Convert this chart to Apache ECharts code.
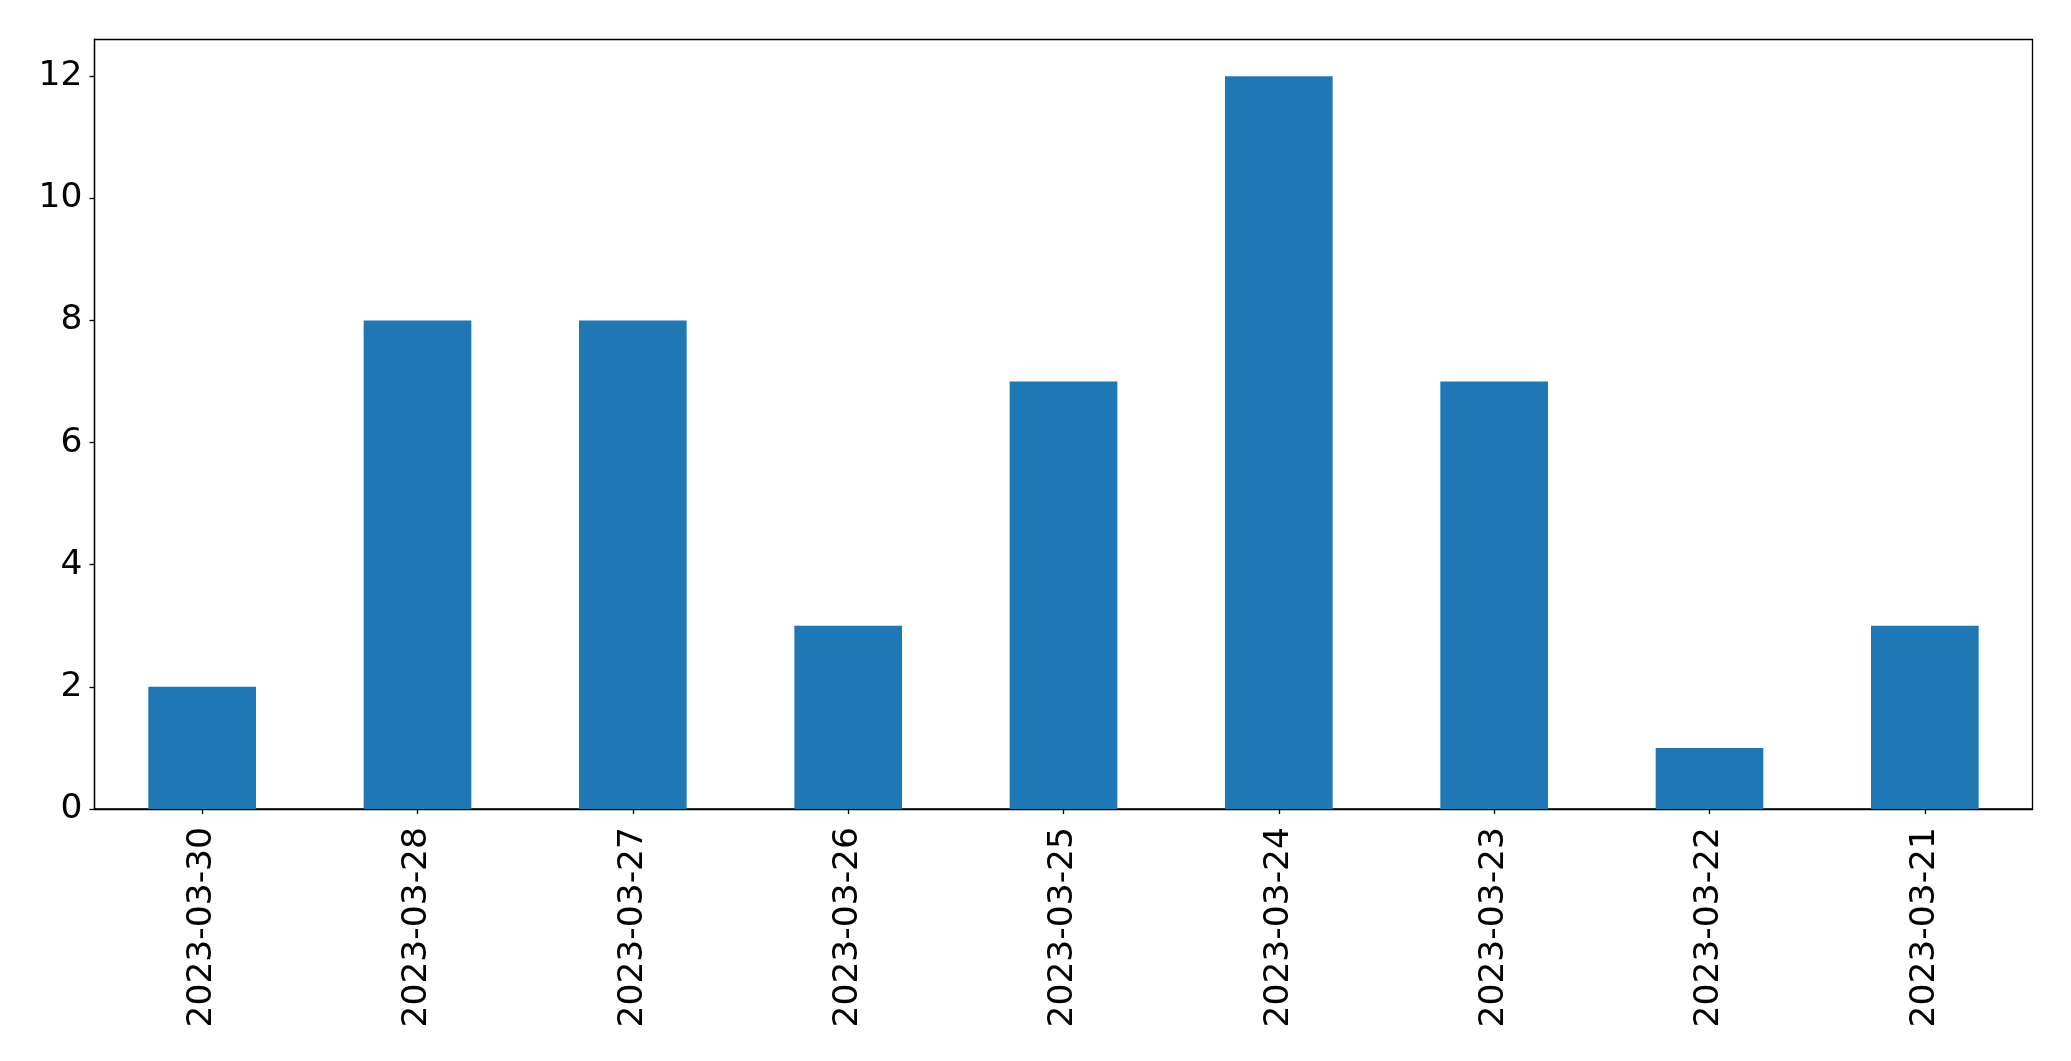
<!DOCTYPE html>
<html>
<head>
<meta charset="utf-8">
<script src="https://cdn.jsdelivr.net/npm/echarts@6/dist/echarts.min.js"></script>
<style>
html,body{margin:0;padding:0;background:#fff;}
#chart{width:2071px;height:1061px;}
</style>
</head>
<body>
<div id="chart"></div>
<script>
const categories = ['2023-03-30','2023-03-28','2023-03-27','2023-03-26','2023-03-25','2023-03-24','2023-03-23','2023-03-22','2023-03-21'];
const counts = [2, 8, 8, 3, 7, 12, 7, 1, 3];
const yTicks = [0, 2, 4, 6, 8, 10, 12];

const chart = echarts.init(document.getElementById('chart'), null, {renderer: 'canvas'});
const font = 'DejaVu Sans';
chart.setOption({
  animation: false,
  backgroundColor: '#ffffff',
  grid: {
    left: 94.5, right: 38.5, top: 39.5, bottom: 252,
    show: true, borderColor: '#000', borderWidth: 1.3, backgroundColor: 'transparent'
  },
  xAxis: {
    type: 'category',
    data: categories,
    boundaryGap: true,
    axisLine: {show: true, lineStyle: {color: '#000', width: 1.3}},
    axisTick: {show: true, alignWithLabel: true, length: 5, lineStyle: {color: '#000', width: 1.3}},
    axisLabel: {rotate: 90, margin: 18, fontSize: 34.5, fontFamily: font, color: '#000', interval: 0},
    splitLine: {show: false}
  },
  yAxis: {
    type: 'value',
    min: 0, max: 12.6, interval: 2,
    axisLine: {show: true, lineStyle: {color: '#000', width: 1.3}},
    axisTick: {show: true, length: 5, lineStyle: {color: '#000', width: 1.3}, customValues: yTicks},
    axisLabel: {margin: 12, fontSize: 34.5, fontFamily: font, color: '#000', customValues: yTicks},
    splitLine: {show: false}
  },
  series: [{
    type: 'bar',
    data: counts,
    barWidth: '50%',
    itemStyle: {color: '#1f77b4'}
  }]
});
</script>
</body>
</html>
